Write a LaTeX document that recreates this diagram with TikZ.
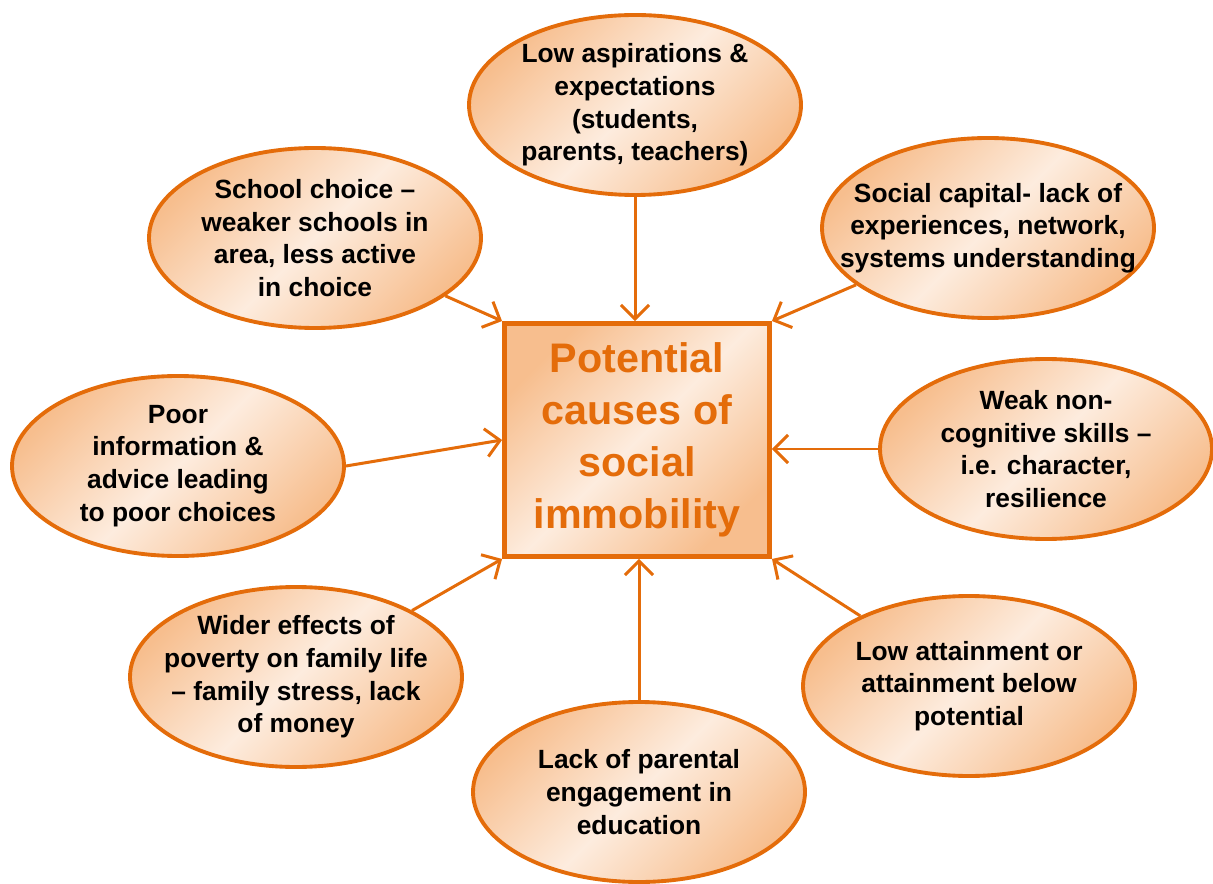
\documentclass[tikz,border=0pt]{standalone}
\usepackage{fontspec}
\setmainfont{Liberation Sans}
\usepackage{tikz}
\usetikzlibrary{arrows.meta}
\usetikzlibrary{shapes.geometric}
\definecolor{orn}{RGB}{228,108,10}
\definecolor{ornlight}{RGB}{253,236,222}
\definecolor{orndark}{RGB}{247,190,142}
\tikzstyle{cause}=[ellipse, draw=orn, line width=2.2pt, inner sep=0pt,
  minimum width=6.64cm, minimum height=3.6cm,
  top color=orndark, bottom color=orndark, middle color=ornlight, shading angle=45]
\tikzstyle{causetext}=[inner sep=0pt, align=center, text=black,
  font=\fontsize{15}{18.6}\selectfont\bfseries]
\tikzstyle{core}=[rectangle, draw=orn, line width=2.8pt, inner sep=0pt,
  minimum width=5.3cm, minimum height=4.66cm, align=center, text=orn,
  top color=orndark, bottom color=orndark, middle color=ornlight, shading angle=45,
  font=\fontsize{23.5}{29.6}\selectfont\bfseries]
\tikzset{feed/.style={draw=orn, line width=1.7pt,
      -{Straight Barb[length=8pt,width=16pt,line width=1.7pt]}}}

\begin{document}
\begin{tikzpicture}
		\useasboundingbox (0,0) rectangle (24.26,-17.68);
		\node[core] (box) at (12.74,-8.80) {Potential\\causes of\\social\\immobility};
		\node[cause, label={[causetext]center:{Low aspirations \&\\expectations\\(students,\\parents, teachers)}}] (aspire) at (12.70,-2.10) {};
		\node[cause, label={[causetext]center:{School choice --\\weaker schools in\\area, less active\\in choice}}] (school) at (6.30,-4.76) {};
		\node[cause, label={[causetext]center:{Social capital- lack of\\experiences, network,\\systems understanding}}] (social) at (19.76,-4.56) {};
		\node[cause, label={[causetext]center:{Poor\\information \&\\advice leading\\to poor choices}}] (poorinfo) at (3.56,-9.32) {};
		\node[cause, label={[causetext]center:{Weak non-\\cognitive skills --\\i.e. character,\\resilience}}] (weak) at (20.92,-8.98) {};
		\node[cause, label={[causetext]center:{Wider effects of\\poverty on family life\\-- family stress, lack\\of money}}] (wider) at (5.92,-13.54) {};
		\node[cause, label={[causetext]center:{Lack of parental\\engagement in\\education}}] (parental) at (12.78,-15.84) {};
		\node[cause, label={[causetext]center:{Low attainment or\\attainment below\\potential}}] (attain) at (19.38,-13.72) {};
		\draw[feed] (aspire) -- (aspire |- box.north);
		\draw[feed] (school) -- (box.north west);
		\draw[feed] (social) -- (box.north east);
		\draw[feed] (poorinfo.east) -- (box.west);
		\draw[feed] (weak.west) -- (weak.west -| box.east);
		\draw[feed] (wider) -- (box.south west);
		\draw[feed] (parental) -- (parental |- box.south);
		\draw[feed] (attain) -- (box.south east);
\end{tikzpicture}
\end{document}
